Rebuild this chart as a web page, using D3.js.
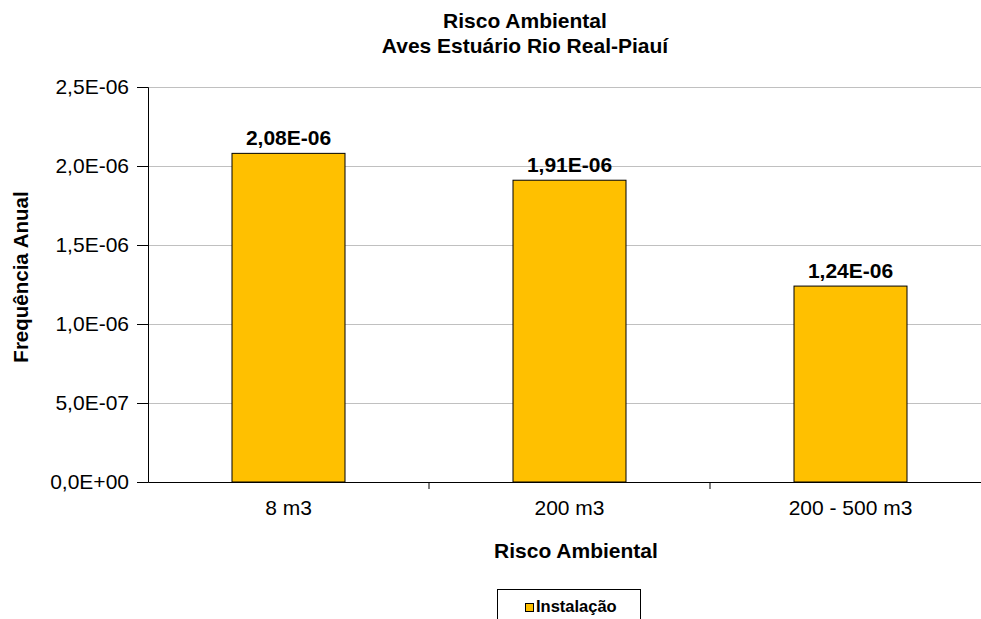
<!DOCTYPE html>
<html><head><meta charset="utf-8">
<script src="https://cdn.jsdelivr.net/npm/d3@7"></script>
<style>body{margin:0;background:#fff}svg{font-family:"Liberation Sans",Arial,sans-serif}</style>
</head><body><svg id="c" width="981" height="619"></svg>
<script>
const categories = ["8 m3", "200 m3", "200 - 500 m3"];
const values = [2.08e-6, 1.91e-6, 1.24e-6];
const labels = ["2,08E-06", "1,91E-06", "1,24E-06"];
const yTicks = [0, 5e-7, 1e-6, 1.5e-6, 2e-6, 2.5e-6];
const yTickLabels = ["0,0E+00", "5,0E-07", "1,0E-06", "1,5E-06", "2,0E-06", "2,5E-06"];
const seriesName = "Instalação";

const FF = "Liberation Sans, Arial, sans-serif";
const svg = d3.select("#c");
const L = 148, R = 991, T = 87, B = 482;
const x = d3.scaleBand().domain(categories).range([L, R]).paddingInner(0).paddingOuter(0);
const y = d3.scaleLinear().domain([0, 2.5e-6]).range([B, T]);

// gridlines
svg.append("g").selectAll("line").data(yTicks.slice(1)).join("line")
  .attr("x1", L).attr("x2", R).attr("y1", d => y(d)).attr("y2", d => y(d))
  .attr("stroke", "#c0c0c0").attr("stroke-width", 1).attr("shape-rendering", "crispEdges");

// y axis
const yAxis = d3.axisLeft(y).tickValues(yTicks).tickSize(11).tickPadding(8)
  .tickFormat((d, i) => yTickLabels[i]);
const gy = svg.append("g").attr("transform", `translate(${L},0)`).call(yAxis);
gy.attr("font-size", null).attr("font-family", null);
gy.select(".domain").attr("stroke", "#000");
gy.selectAll(".tick line").attr("stroke", "#000");
gy.selectAll("text").style("font-size", "21px").attr("fill", "#000").style("font-family", FF);

// bars
const bw = 113;
svg.append("g").selectAll("rect").data(values).join("rect")
  .attr("x", (d, i) => x(categories[i]) + x.bandwidth() / 2 - bw / 2)
  .attr("y", d => y(d)).attr("width", bw).attr("height", d => B - y(d))
  .attr("fill", "#FFC000").attr("stroke", "#000").attr("stroke-width", 1);

// x axis
const xAxis = d3.axisBottom(x).tickSize(0).tickPadding(0);
const gx = svg.append("g").attr("transform", `translate(0,${B})`).call(xAxis);
gx.attr("font-size", null).attr("font-family", null);
gx.select(".domain").attr("stroke", "#000");
gx.selectAll("text").style("font-size", "21px").attr("fill", "#000").style("font-family", FF)
  .attr("y", 33).attr("dy", null);
// category separators
svg.append("g").selectAll("line").data(categories.slice(1)).join("line")
  .attr("x1", d => x(d)).attr("x2", d => x(d)).attr("y1", B).attr("y2", B + 7).attr("stroke", "#000");

// data labels
svg.append("g").selectAll("text").data(values).join("text")
  .attr("x", (d, i) => x(categories[i]) + x.bandwidth() / 2)
  .attr("y", d => y(d) - 8).attr("text-anchor", "middle")
  .style("font-size", "21px").attr("font-weight", "bold").text((d, i) => labels[i]);

// titles
svg.append("text").attr("x", 525).attr("y", 28).attr("text-anchor", "middle")
  .style("font-size", "21px").attr("font-weight", "bold").text("Risco Ambiental");
svg.append("text").attr("x", 525).attr("y", 53).attr("text-anchor", "middle")
  .style("font-size", "21px").attr("font-weight", "bold").text("Aves Estuário Rio Real-Piauí");
svg.append("text").attr("x", 576).attr("y", 558).attr("text-anchor", "middle")
  .style("font-size", "21px").attr("font-weight", "bold").text("Risco Ambiental");
svg.append("text").attr("transform", "translate(28,277) rotate(-90)").attr("text-anchor", "middle")
  .style("font-size", "20.5px").attr("font-weight", "bold").text("Frequência Anual");

// legend
const lg = svg.append("g");
lg.append("rect").attr("x", 497.5).attr("y", 589.5).attr("width", 143).attr("height", 40)
  .attr("fill", "#fff").attr("stroke", "#000");
lg.append("rect").attr("x", 525.5).attr("y", 603.5).attr("width", 8).attr("height", 8)
  .attr("fill", "#FFC000").attr("stroke", "#000");
lg.append("text").attr("x", 536).attr("y", 612).style("font-size", "16.5px").attr("font-weight", "bold").text(seriesName);
</script></body></html>
